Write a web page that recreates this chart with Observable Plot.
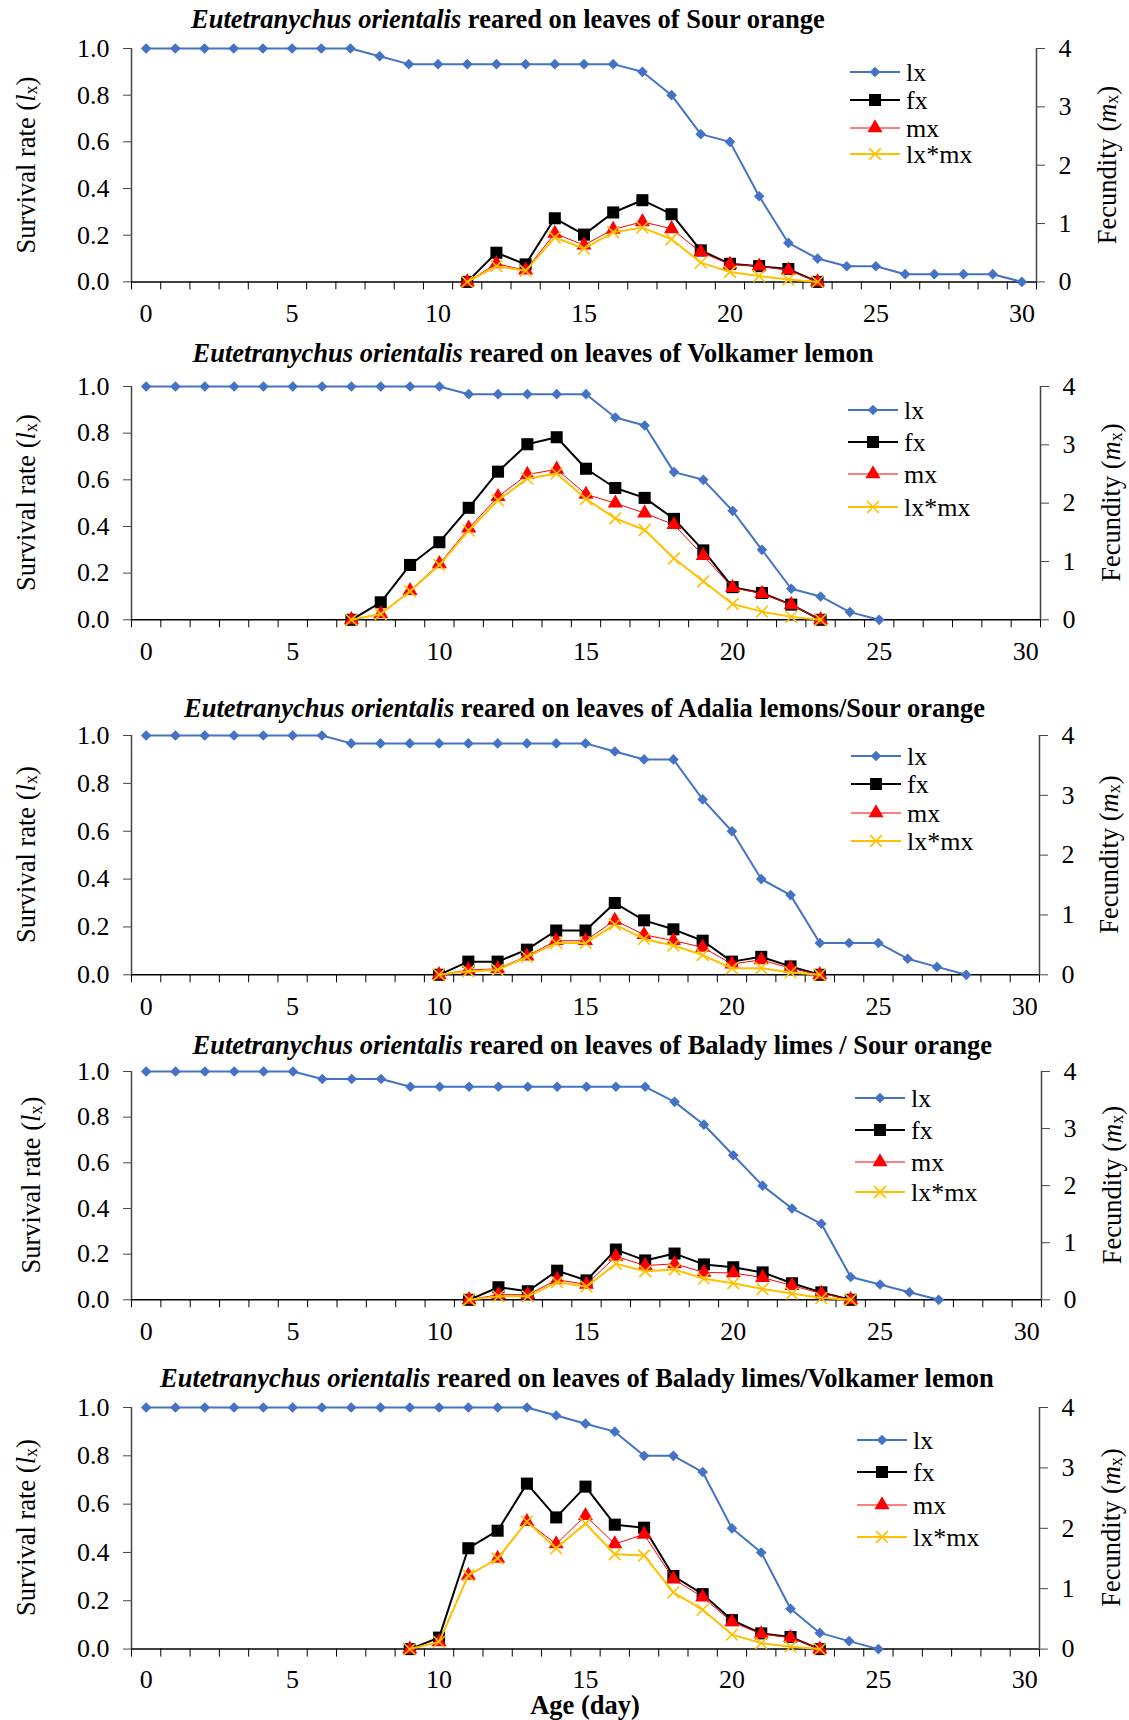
<!DOCTYPE html>
<html><head><meta charset="utf-8">
<script src="https://cdn.jsdelivr.net/npm/d3@7"></script>
<script src="https://cdn.jsdelivr.net/npm/@observablehq/plot@0.6"></script>
<style>
body{margin:0;background:#fff}
#root{position:relative;width:1129px;height:1720px;font-family:"Liberation Serif","Times New Roman",serif;overflow:hidden}
#root > svg, #root > figure{position:absolute;left:0;margin:0}
</style>
</head><body><div id="root"></div>
<script>
// ---------- data ----------
const hosts = ["Sour orange", "Volkamer lemon", "Adalia lemons/Sour orange", "Balady limes / Sour orange", "Balady limes/Volkamer lemon"];
const seriesNames = ["lx", "fx", "mx", "lx*mx"];
const xTickLabels = [0, 5, 10, 15, 20, 25, 30];
const leftTicks = [0, 0.2, 0.4, 0.6, 0.8, 1.0];
const rightTicks = [0, 1, 2, 3, 4];

// lx from day 0
const lx1 = [1,1,1,1,1,1,1,1,0.967,0.933,0.933,0.933,0.933,0.933,0.933,0.933,0.933,0.9,0.8,0.633,0.6,0.367,0.167,0.1,0.067,0.067,0.033,0.033,0.033,0.033,0];
const lx2 = [1,1,1,1,1,1,1,1,1,1,1,0.967,0.967,0.967,0.967,0.967,0.867,0.833,0.633,0.6,0.467,0.3,0.133,0.1,0.033,0];
const lx3 = [1,1,1,1,1,1,1,0.967,0.967,0.967,0.967,0.967,0.967,0.967,0.967,0.967,0.933,0.9,0.9,0.733,0.6,0.4,0.333,0.133,0.133,0.133,0.067,0.033,0];
const lx4 = [1,1,1,1,1,1,0.967,0.967,0.967,0.933,0.933,0.933,0.933,0.933,0.933,0.933,0.933,0.933,0.867,0.767,0.633,0.5,0.4,0.333,0.1,0.067,0.033,0];
const lx5 = [1,1,1,1,1,1,1,1,1,1,1,1,1,1,0.967,0.933,0.9,0.8,0.8,0.733,0.5,0.4,0.167,0.067,0.033,0];

// first reproduction day of each panel
const startDays = [11, 7, 10, 11, 9];

const fx1 = [0,0.50,0.30,1.09,0.81,1.19,1.40,1.16,0.54,0.31,0.27,0.22,0];
const mx1 = [0,0.31,0.20,0.83,0.63,0.90,1.03,0.91,0.51,0.30,0.27,0.20,0];
const lxmx1 = [0,0.27,0.19,0.76,0.57,0.85,0.93,0.73,0.33,0.17,0.10,0.04,0];

const fx2 = [0,0.30,0.94,1.33,1.92,2.54,3.01,3.13,2.59,2.26,2.09,1.73,1.19,0.56,0.46,0.26,0];
const mx2 = [0,0.10,0.50,0.96,1.57,2.11,2.49,2.58,2.15,2.00,1.83,1.63,1.10,0.55,0.45,0.26,0];
const lxmx2 = [0,0.10,0.49,0.94,1.53,2.05,2.42,2.51,2.07,1.74,1.54,1.05,0.66,0.27,0.14,0.05,0];

const fx3 = [0,0.22,0.22,0.42,0.74,0.74,1.20,0.91,0.76,0.57,0.22,0.30,0.14,0];
const mx3 = [0,0.08,0.10,0.31,0.57,0.57,0.91,0.67,0.57,0.46,0.18,0.25,0.11,0];
const lxmx3 = [0,0.06,0.08,0.30,0.53,0.53,0.84,0.60,0.49,0.33,0.11,0.11,0.04,0];

const fx4 = [0,0.22,0.15,0.51,0.34,0.88,0.69,0.81,0.62,0.57,0.48,0.29,0.13,0];
const mx4 = [0,0.09,0.09,0.35,0.27,0.76,0.60,0.63,0.48,0.47,0.39,0.25,0.11,0];
const lxmx4 = [0,0.06,0.06,0.31,0.23,0.63,0.50,0.53,0.37,0.29,0.19,0.11,0.03,0];

const fx5 = [0,0.19,1.67,1.96,2.74,2.18,2.69,2.06,2.01,1.21,0.91,0.48,0.26,0.20,0];
const mx5 = [0,0.12,1.22,1.50,2.11,1.74,2.21,1.74,1.90,1.16,0.86,0.45,0.25,0.19,0];
const lxmx5 = [0,0.12,1.22,1.50,2.11,1.67,2.08,1.57,1.55,0.94,0.65,0.24,0.10,0.04,0];

const lxAll = [lx1, lx2, lx3, lx4, lx5];
const fxAll = [fx1, fx2, fx3, fx4, fx5];
const mxAll = [mx1, mx2, mx3, mx4, mx5];
const lxmxAll = [lxmx1, lxmx2, lxmx3, lxmx4, lxmx5];

// ---------- layout & style ----------
const W = 1129, ML = 131;
const layout = [
  {top: 48.3, bottom: 281.7, right: 1036, tx: 191, ty: 28, lx0: 850, rows: [72,100,128,154], ylx: 26, yrx: 1107},
  {top: 386, bottom: 619.3, right: 1040, tx: 192.5, ty: 362, lx0: 848, rows: [410,442,474,507], ylx: 26, yrx: 1111},
  {top: 735, bottom: 974.3, right: 1039, tx: 184, ty: 717, lx0: 851, rows: [756,784,813,841], ylx: 26, yrx: 1109},
  {top: 1071, bottom: 1299.3, right: 1041, tx: 192.5, ty: 1054, lx0: 855, rows: [1098,1130,1162,1192], ylx: 31, yrx: 1112},
  {top: 1406.7, bottom: 1648.3, right: 1039, tx: 160, ty: 1387, lx0: 857, rows: [1440,1472,1505,1537], ylx: 26, yrx: 1111}
];
const colors = {lx: "#4472C4", fx: "#000000", mx: "#FF0000", lxmx: "#FFC000"};
const FONT = '"Liberation Serif", "Times New Roman", serif';
const xDomain = [-0.5, 30.5];

const root = document.getElementById("root");
const MT = 12, MB = 60;

layout.forEach((L, i) => {
  const lxData = lxAll[i].map((v, d) => ({day: d, v}));
  const top = rightTicks[rightTicks.length - 1];
  const mk = arr => arr.map((v, k) => ({day: startDays[i] + k, v: v / top}));
  const fxData = mk(fxAll[i]), mxData = mk(mxAll[i]), lxmxData = mk(lxmxAll[i]);
  const h = L.bottom - L.top;
  const chart = Plot.plot({
    width: W, height: h + MT + MB,
    marginTop: MT, marginBottom: MB, marginLeft: ML, marginRight: W - L.right,
    x: {domain: xDomain},
    y: {domain: [0, 1]},
    style: {fontFamily: FONT, fontSize: "26px", color: "#000", background: "transparent", overflow: "visible"},
    marks: [
      Plot.ruleX([xDomain[0]], {stroke: "#444", strokeWidth: 1.5}),
      Plot.ruleX([xDomain[1]], {stroke: "#444", strokeWidth: 1.5}),
      Plot.ruleY([0], {stroke: "#000", strokeWidth: 1.5}),
      Plot.axisY({ticks: leftTicks, tickFormat: d => d.toFixed(1), tickSize: 8, tickPadding: 14, label: null, fontSize: 26, fontFamily: FONT, stroke: "#444"}),
      Plot.axisY({anchor: "right", ticks: rightTicks.map(t => t / top), tickFormat: d => String(Math.round(d * top)), tickSize: 8, tickPadding: 14, label: null, fontSize: 26, fontFamily: FONT, stroke: "#444"}),
      Plot.axisX({ticks: d3.range(xDomain[0], xDomain[1] + 0.01, 1), tickFormat: () => "", tickSize: 8, label: null, stroke: "#000"}),
      Plot.axisX({ticks: xTickLabels, tickSize: 0, tickPadding: i === 4 ? 20 : 22, label: null, fontSize: 26, fontFamily: FONT}),
      Plot.line(lxData, {x: "day", y: "v", stroke: colors.lx, strokeWidth: 2}),
      Plot.dot(lxData, {x: "day", y: "v", symbol: "diamond2", fill: colors.lx, r: 4.8}),
      Plot.line(fxData, {x: "day", y: "v", stroke: colors.fx, strokeWidth: 2}),
      Plot.dot(fxData, {x: "day", y: "v", symbol: "square", fill: colors.fx, r: 6.8}),
      Plot.line(mxData, {x: "day", y: "v", stroke: colors.mx, strokeWidth: 1}),
      Plot.dot(mxData, {x: "day", y: "v", symbol: "triangle", fill: colors.mx, r: 5.6}),
      Plot.line(lxmxData, {x: "day", y: "v", stroke: colors.lxmx, strokeWidth: 2}),
      Plot.dot(lxmxData, {x: "day", y: "v", symbol: "times", stroke: colors.lxmx, strokeWidth: 1.6, r: 5.4})
    ]
  });
  chart.style.top = (L.top - MT) + "px";
  root.appendChild(chart);
});

// ---------- overlay: titles, axis titles, legends ----------
const svg = d3.select(root).append("svg")
  .attr("width", W).attr("height", 1720)
  .style("top", "0px").style("pointer-events", "none")
  .style("font-family", FONT);

const symTypes = {diamond2: d3.symbolDiamond2, square: d3.symbolSquare, triangle: d3.symbolTriangle, times: d3.symbolTimes};
const legendDefs = [
  {name: seriesNames[0], color: colors.lx, width: 2, symbol: "diamond2", r: 4.8, filled: true},
  {name: seriesNames[1], color: colors.fx, width: 2, symbol: "square", r: 6.8, filled: true},
  {name: seriesNames[2], color: colors.mx, width: 1, symbol: "triangle", r: 5.6, filled: true},
  {name: seriesNames[3], color: colors.lxmx, width: 2, symbol: "times", r: 5.4, filled: false}
];

layout.forEach((L, i) => {
  // title
  const t = svg.append("text").attr("x", L.tx).attr("y", L.ty)
    .attr("font-size", 26.5).attr("font-weight", "bold").attr("fill", "#000");
  t.append("tspan").attr("font-style", "italic").text("Eutetranychus orientalis");
  t.append("tspan").text(" reared on leaves of " + hosts[i]);

  const cy = (L.top + L.bottom) / 2;
  // left axis title
  const yl = svg.append("text").attr("transform", `translate(${L.ylx},${cy}) rotate(-90)`)
    .attr("text-anchor", "middle").attr("dominant-baseline", "central").attr("font-size", 26.5).attr("fill", "#000");
  yl.append("tspan").text("Survival rate (");
  yl.append("tspan").attr("font-style", "italic").text("l");
  yl.append("tspan").attr("font-size", 18).attr("dy", 5).text("x");
  yl.append("tspan").attr("dy", -5).text(")");
  // right axis title
  const yr = svg.append("text").attr("transform", `translate(${L.yrx},${cy}) rotate(-90)`)
    .attr("text-anchor", "middle").attr("dominant-baseline", "central").attr("font-size", 26.5).attr("fill", "#000");
  yr.append("tspan").text("Fecundity (");
  yr.append("tspan").attr("font-style", "italic").text("m");
  yr.append("tspan").attr("font-size", 18).attr("dy", 5).text("x");
  yr.append("tspan").attr("dy", -5).text(")");

  // legend
  legendDefs.forEach((s, k) => {
    const y = L.rows[k];
    const g = svg.append("g");
    g.append("line").attr("x1", L.lx0).attr("x2", L.lx0 + 50).attr("y1", y).attr("y2", y)
      .attr("stroke", s.color).attr("stroke-width", s.width);
    g.append("path").attr("transform", `translate(${L.lx0 + 25},${y})`)
      .attr("d", d3.symbol().type(symTypes[s.symbol]).size(Math.PI * s.r * s.r)())
      .attr("fill", s.filled ? s.color : "none")
      .attr("stroke", s.filled ? "none" : s.color).attr("stroke-width", 1.6);
    g.append("text").attr("x", L.lx0 + 56).attr("y", y).attr("dominant-baseline", "central")
      .attr("font-size", 26).attr("fill", "#000").text(s.name);
  });
});

svg.append("text").attr("x", 585).attr("y", 1714).attr("text-anchor", "middle")
  .attr("font-size", 26.5).attr("font-weight", "bold").attr("fill", "#000").text("Age (day)");
</script>
</body></html>
